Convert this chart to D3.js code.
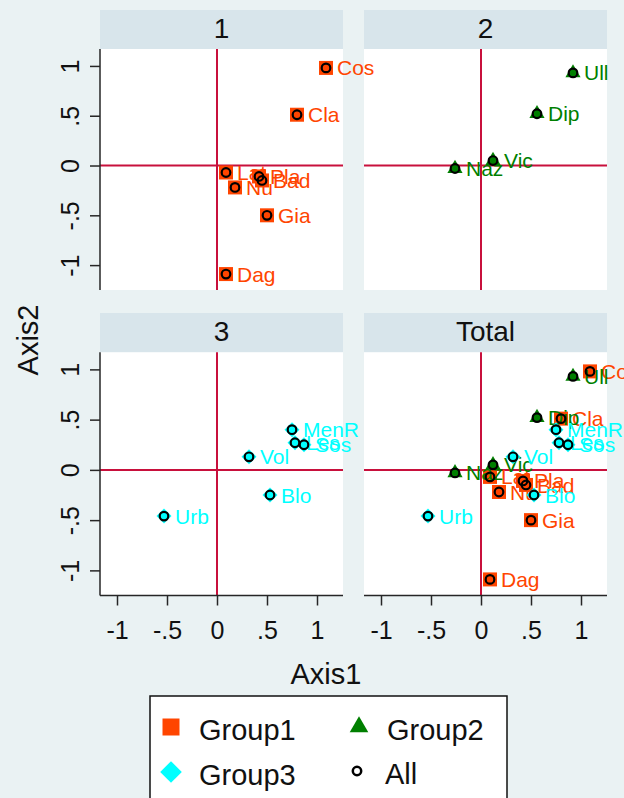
<!DOCTYPE html>
<html><head><meta charset="utf-8">
<script src="https://cdn.jsdelivr.net/npm/d3@7"></script>
<style>
body{margin:0;background:#EAF2F3}
svg{display:block}
text{font-family:"Liberation Sans",Arial,sans-serif}
</style>
</head><body><script>
// Correspondence-analysis coordinates, one set of arrays per group
const group1Names = ["Cos","Cla","Lat","Nu","Pla","Bad","Gia","Dag"];
const group1Axis1 = [1.09, 0.80, 0.09, 0.18, 0.42, 0.45, 0.50, 0.09];
const group1Axis2 = [0.98, 0.51, -0.07, -0.22, -0.11, -0.15, -0.50, -1.09];

const group2Names = ["Ull","Dip","Vic","Naz"];
const group2Axis1 = [0.92, 0.56, 0.12, -0.26];
const group2Axis2 = [0.93, 0.52, 0.05, -0.03];

const group3Names = ["MenR","Les","Sos","Vol","Blo","Urb"];
const group3Axis1 = [0.75, 0.78, 0.87, 0.32, 0.53, -0.53];
const group3Axis2 = [0.40, 0.27, 0.25, 0.13, -0.25, -0.46];

const panelTitles = ["1","2","3","Total"];
const legendLabels = ["Group1","Group2","Group3","All"];
const tickValues = [-1, -0.5, 0, 0.5, 1];
const tickLabels = ["-1","-.5","0",".5","1"];

// ---- build point records ----
const groupColors = ["#FF4500", "#007F00", "#00FFFF"];
const groupSymbols = ["square", "triangle", "diamond"];
function pts(names, xs, ys, g) {
  return names.map((n, i) => ({ name: n, x: xs[i], y: ys[i], g }));
}
const groups = [
  pts(group1Names, group1Axis1, group1Axis2, 0),
  pts(group2Names, group2Axis1, group2Axis2, 1),
  pts(group3Names, group3Axis1, group3Axis2, 2)
];

const W = 624, H = 798;
const svg = d3.select("body").append("svg").attr("width", W).attr("height", H);
svg.append("rect").attr("width", W).attr("height", H).attr("fill", "#EAF2F3");

const cols = [[100, 343], [364, 607]];
const rows = [
  { strip: [10, 49], plot: [49, 290] },
  { strip: [313, 352.3], plot: [352.3, 595.5] }
];
const xDomain = [-1.17, 1.26], yDomain = [-1.25, 1.17];
const axisColor = "#262626", refColor = "#C8103C";
const fmt = d => tickLabels[tickValues.indexOf(d)];

function markerPath(type) {
  if (type === "square") return d3.symbol(d3.symbolSquare, 196)();
  if (type === "triangle") return d3.symbol(d3.symbolTriangle, 100)();
  return d3.symbol(d3.symbolSquare, 112)();
}

const panels = [
  { title: panelTitles[0], r: 0, c: 0, gs: [0] },
  { title: panelTitles[1], r: 0, c: 1, gs: [1] },
  { title: panelTitles[2], r: 1, c: 0, gs: [2] },
  { title: panelTitles[3], r: 1, c: 1, gs: [0, 1, 2] }
];
panels.forEach(p => {
  const [x0, x1] = cols[p.c];
  const row = rows[p.r];
  p.x = d3.scaleLinear().domain(xDomain).range([x0, x1]);
  p.y = d3.scaleLinear().domain(yDomain).range([row.plot[1], row.plot[0]]);
});

const bgLayer = svg.append("g");
const markLayer = svg.append("g");

// panel frames, strips, reference lines and axes
panels.forEach(p => {
  const [x0, x1] = cols[p.c];
  const row = rows[p.r];
  const x = p.x, y = p.y;
  const g = bgLayer.append("g");

  g.append("rect").attr("x", x0).attr("y", row.strip[0])
    .attr("width", x1 - x0).attr("height", row.strip[1] - row.strip[0])
    .attr("fill", "#D8E5EB");
  g.append("text").attr("x", (x0 + x1) / 2).attr("y", row.strip[1] - 11.5)
    .attr("text-anchor", "middle").attr("font-size", 28).attr("fill", "#111")
    .text(p.title);

  g.append("rect").attr("x", x0).attr("y", row.plot[0])
    .attr("width", x1 - x0).attr("height", row.plot[1] - row.plot[0])
    .attr("fill", "#fff");

  g.append("line").attr("x1", x(0)).attr("x2", x(0))
    .attr("y1", row.plot[0]).attr("y2", row.plot[1])
    .attr("stroke", refColor).attr("stroke-width", 2);
  g.append("line").attr("x1", x0).attr("x2", x1)
    .attr("y1", y(0)).attr("y2", y(0))
    .attr("stroke", refColor).attr("stroke-width", 2);

  if (p.c === 0) {
    const ax = g.append("g").attr("transform", `translate(${x0},0)`)
      .call(d3.axisLeft(y).tickValues(tickValues).tickFormat(fmt).tickSize(10).tickSizeOuter(0));
    ax.select(".domain").attr("stroke", axisColor).attr("stroke-width", 1.5)
      .attr("d", `M0,${row.plot[0]}V${row.plot[1]}`);
    ax.selectAll(".tick line").attr("stroke", axisColor).attr("stroke-width", 1.5);
    ax.selectAll(".tick text").attr("x", null).attr("dy", null)
      .attr("transform", "translate(-21,0) rotate(-90)")
      .attr("text-anchor", "middle").attr("font-size", 25)
      .attr("font-family", '"Liberation Sans",Arial,sans-serif').attr("fill", "#111");
  }
  if (p.r === 1) {
    const ax = g.append("g").attr("transform", `translate(0,${row.plot[1]})`)
      .call(d3.axisBottom(x).tickValues(tickValues).tickFormat(fmt).tickSize(10).tickSizeOuter(0));
    ax.select(".domain").attr("stroke", axisColor).attr("stroke-width", 1.5)
      .attr("d", `M${x0},0H${x1}`);
    ax.selectAll(".tick line").attr("stroke", axisColor).attr("stroke-width", 1.5);
    ax.selectAll(".tick text").attr("y", 43.5).attr("dy", null)
      .attr("font-size", 25)
      .attr("font-family", '"Liberation Sans",Arial,sans-serif').attr("fill", "#111");
  }
});

// markers and labels, drawn above every panel so labels may spill over
panels.forEach(p => {
  const x = p.x, y = p.y;
  const g = markLayer.append("g");
  const all = [];
  p.gs.forEach(gi => {
    const data = groups[gi];
    all.push(...data);
    const sel = g.append("g").selectAll("g").data(data).join("g")
      .attr("transform", d => `translate(${x(d.x)},${y(d.y)})`);
    sel.append("path")
      .attr("d", markerPath(groupSymbols[gi]))
      .attr("transform", groupSymbols[gi] === "diamond" ? "rotate(45)" : null)
      .attr("fill", groupColors[gi]);
    sel.append("text").attr("x", 11).attr("dy", "0.36em")
      .attr("font-size", 21).attr("fill", groupColors[gi]).text(d => d.name);
  });
  g.append("g").selectAll("circle").data(all).join("circle")
    .attr("cx", d => x(d.x)).attr("cy", d => y(d.y)).attr("r", 4.3)
    .attr("fill", "none").attr("stroke", "#000").attr("stroke-width", 2.2);
});

// axis titles
svg.append("text").attr("transform", "translate(38,340) rotate(-90)")
  .attr("text-anchor", "middle").attr("font-size", 29).attr("fill", "#111").text("Axis2");
svg.append("text").attr("x", 326).attr("y", 684)
  .attr("text-anchor", "middle").attr("font-size", 29).attr("fill", "#111").text("Axis1");

// legend
const lg = svg.append("g");
lg.append("rect").attr("x", 150).attr("y", 696).attr("width", 357).attr("height", 130)
  .attr("fill", "#fff").attr("stroke", "#111").attr("stroke-width", 1.5);
const legendItems = [
  { label: legendLabels[0], cx: 171, cy: 727, sym: "square", color: groupColors[0] },
  { label: legendLabels[1], cx: 359, cy: 727, sym: "triangle", color: groupColors[1] },
  { label: legendLabels[2], cx: 171, cy: 772, sym: "diamond", color: groupColors[2] },
  { label: legendLabels[3], cx: 357, cy: 771, sym: "circle", color: "#000" }
];
legendItems.forEach(it => {
  const t = lg.append("g").attr("transform", `translate(${it.cx},${it.cy})`);
  if (it.sym === "circle") {
    t.append("circle").attr("r", 4.2).attr("fill", "none").attr("stroke", "#000").attr("stroke-width", 2.5);
  } else if (it.sym === "square") {
    t.append("path").attr("d", d3.symbol(d3.symbolSquare, 289)()).attr("fill", it.color);
  } else if (it.sym === "triangle") {
    t.append("path").attr("d", d3.symbol(d3.symbolTriangle, 150)()).attr("fill", it.color);
  } else {
    t.append("path").attr("d", d3.symbol(d3.symbolSquare, 235)()).attr("transform", "rotate(45)").attr("fill", it.color);
  }
  lg.append("text").attr("x", it.cx + 28).attr("y", it.cy + 13)
    .attr("font-size", 29).attr("fill", "#111").text(it.label);
});
</script></body></html>
